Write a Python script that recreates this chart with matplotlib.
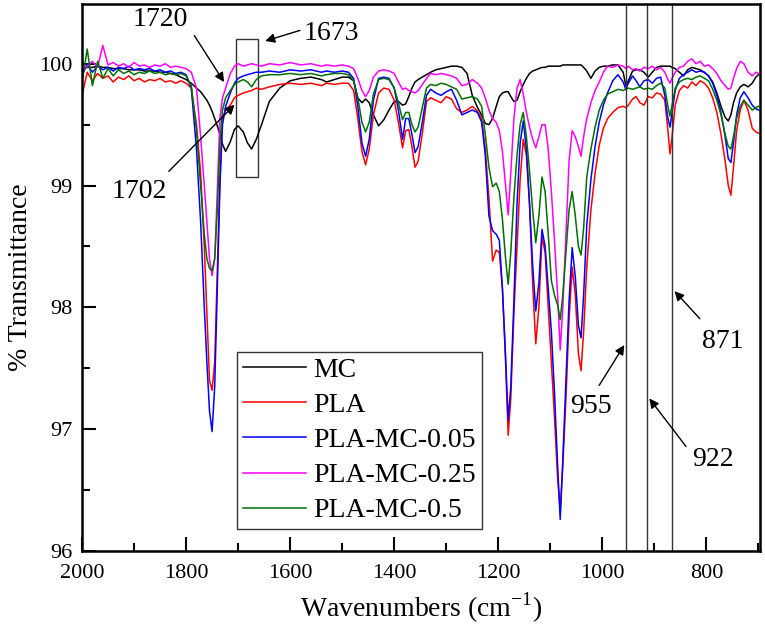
import numpy as np
import matplotlib
matplotlib.use("Agg")
import matplotlib.pyplot as plt
from matplotlib.patches import Rectangle

plt.rcParams['font.family'] = ['Liberation Serif', 'DejaVu Serif']
plt.rcParams['mathtext.fontset'] = 'custom'
plt.rcParams['mathtext.rm'] = 'Liberation Serif'

wavenumber = [2000, 1990, 1980, 1970, 1960, 1950, 1940, 1930, 1920, 1910, 1900, 1890, 1880, 1870, 1860,
              1850, 1840, 1830, 1820, 1810, 1800, 1790, 1780, 1772, 1765, 1760, 1755, 1750, 1745, 1740,
              1735, 1730, 1724, 1715, 1707, 1700, 1690, 1682, 1674, 1665, 1655, 1640, 1620, 1600, 1580,
              1560, 1540, 1530, 1515, 1500, 1488, 1478, 1470, 1462, 1455, 1448, 1440, 1430, 1420, 1410,
              1400, 1392, 1384, 1378, 1372, 1366, 1360, 1354, 1346, 1338, 1330, 1320, 1310, 1300, 1290,
              1280, 1270, 1260, 1250, 1240, 1232, 1225, 1218, 1211, 1204, 1198, 1192, 1186, 1181, 1176,
              1170, 1164, 1158, 1152, 1146, 1140, 1134, 1128, 1122, 1116, 1110, 1104, 1098, 1092, 1086,
              1081, 1076, 1070, 1064, 1058, 1052, 1046, 1041, 1036, 1030, 1022, 1014, 1006, 998, 990,
              980, 970, 960, 955, 950, 942, 935, 928, 920, 912, 904, 896, 888, 880, 874,
              870, 866, 860, 852, 844, 836, 828, 820, 812, 804, 796, 788, 780, 772, 764,
              758, 753, 748, 742, 735, 728, 720, 712, 705, 700]

mc = [99.96, 99.97, 99.97, 99.98, 99.97, 99.97, 99.96, 99.96, 99.96, 99.95, 99.95, 99.95, 99.94, 99.94, 99.94,
      99.93, 99.93, 99.92, 99.91, 99.89, 99.87, 99.84, 99.80, 99.77, 99.73, 99.70, 99.66, 99.61, 99.55, 99.49,
      99.42, 99.34, 99.28, 99.36, 99.46, 99.49, 99.44, 99.35, 99.30, 99.38, 99.50, 99.69, 99.80, 99.86, 99.88,
      99.89, 99.87, 99.85, 99.87, 99.89, 99.89, 99.86, 99.72, 99.68, 99.71, 99.68, 99.58, 99.49, 99.54, 99.62,
      99.69, 99.69, 99.66, 99.67, 99.73, 99.80, 99.85, 99.87, 99.89, 99.91, 99.93, 99.95, 99.96, 99.97, 99.98,
      99.98, 99.97, 99.92, 99.74, 99.64, 99.58, 99.51, 99.50, 99.55, 99.65, 99.73, 99.76, 99.77, 99.77, 99.73,
      99.69, 99.70, 99.77, 99.83, 99.88, 99.92, 99.94, 99.95, 99.96, 99.97, 99.97, 99.98, 99.98, 99.98, 99.98,
      99.98, 99.99, 99.99, 99.99, 99.99, 99.99, 99.99, 99.99, 99.97, 99.94, 99.88, 99.94, 99.97, 99.98, 99.98,
      99.99, 99.99, 99.93, 99.82, 99.86, 99.94, 99.95, 99.95, 99.93, 99.89, 99.93, 99.97, 99.98, 99.98, 99.98,
      99.98, 99.97, 99.96, 99.93, 99.90, 99.95, 99.97, 99.96, 99.95, 99.93, 99.90, 99.85, 99.76, 99.65, 99.56,
      99.53, 99.58, 99.68, 99.76, 99.81, 99.83, 99.81, 99.84, 99.89, 99.91]

pla = [99.74, 99.93, 99.86, 99.92, 99.88, 99.90, 99.85, 99.89, 99.87, 99.90, 99.86, 99.88, 99.85, 99.87, 99.86,
       99.88, 99.85, 99.86, 99.84, 99.86, 99.84, 99.80, 99.50, 99.10, 98.50, 97.95, 97.40, 97.32, 97.55, 98.30,
       99.05, 99.55, 99.62, 99.66, 99.72, 99.74, 99.76, 99.77, 99.78, 99.80, 99.79, 99.81, 99.83, 99.84, 99.83,
       99.84, 99.82, 99.84, 99.83, 99.84, 99.84, 99.78, 99.55, 99.28, 99.17, 99.30, 99.58, 99.76, 99.80, 99.79,
       99.70, 99.52, 99.31, 99.45, 99.46, 99.32, 99.15, 99.20, 99.43, 99.69, 99.72, 99.70, 99.68, 99.73, 99.71,
       99.63, 99.60, 99.62, 99.65, 99.61, 99.55, 99.30, 98.90, 98.38, 98.47, 98.45, 98.15, 97.55, 96.95, 97.25,
       97.95, 98.50, 99.05, 99.38, 99.25, 98.85, 98.20, 97.70, 98.00, 98.58, 98.45, 98.00, 97.55, 97.10, 96.60,
       96.33, 96.70, 97.25, 97.90, 98.33, 98.10, 97.62, 97.48, 97.80, 98.33, 98.80, 99.10, 99.33, 99.47, 99.55,
       99.60, 99.64, 99.65, 99.64, 99.66, 99.71, 99.73, 99.68, 99.66, 99.73, 99.72, 99.76, 99.75, 99.70, 99.45,
       99.26, 99.40, 99.66, 99.78, 99.82, 99.80, 99.85, 99.82, 99.86, 99.84, 99.80, 99.72, 99.60, 99.42, 99.20,
       99.00, 98.92, 99.15, 99.45, 99.62, 99.70, 99.62, 99.47, 99.44, 99.43]

pla_mc_005 = [99.90, 100.00, 99.93, 99.98, 99.95, 99.97, 99.94, 99.97, 99.96, 99.98, 99.95, 99.96, 99.95, 99.96, 99.94,
              99.95, 99.93, 99.94, 99.92, 99.93, 99.91, 99.80, 99.30, 98.70, 98.00, 97.55, 97.15, 96.98, 97.35, 98.15,
              99.00, 99.50, 99.65, 99.76, 99.84, 99.88, 99.90, 99.91, 99.92, 99.93, 99.93, 99.94, 99.93, 99.95, 99.94,
              99.95, 99.93, 99.94, 99.93, 99.94, 99.93, 99.88, 99.65, 99.35, 99.24, 99.38, 99.70, 99.88, 99.89, 99.88,
              99.80, 99.62, 99.38, 99.55, 99.55, 99.42, 99.27, 99.32, 99.52, 99.74, 99.79, 99.76, 99.74, 99.77, 99.79,
              99.70, 99.58, 99.60, 99.62, 99.60, 99.52, 99.25, 98.75, 98.63, 98.60, 98.55, 98.15, 97.60, 97.07, 97.35,
              98.05, 98.85, 99.35, 99.53, 99.30, 98.85, 98.35, 97.97, 98.20, 98.64, 98.50, 98.15, 97.80, 97.30, 96.70,
              96.26, 96.75, 97.40, 98.05, 98.49, 98.25, 97.85, 97.75, 98.10, 98.67, 99.05, 99.32, 99.52, 99.66, 99.76,
              99.86, 99.91, 99.85, 99.79, 99.84, 99.90, 99.86, 99.81, 99.86, 99.87, 99.84, 99.88, 99.89, 99.74, 99.55,
              99.48, 99.60, 99.78, 99.88, 99.91, 99.93, 99.95, 99.93, 99.94, 99.93, 99.90, 99.84, 99.74, 99.60, 99.40,
              99.22, 99.19, 99.35, 99.58, 99.72, 99.77, 99.72, 99.66, 99.63, 99.62]

pla_mc_025 = [99.95, 99.98, 100.02, 99.97, 100.15, 99.99, 100.01, 99.98, 100.00, 99.97, 100.01, 99.98, 99.99, 99.97, 99.99,
              99.98, 100.00, 99.97, 99.98, 99.97, 99.96, 99.93, 99.80, 99.40, 99.00, 98.70, 98.40, 98.26, 98.40, 98.95,
              99.55, 99.72, 99.80, 99.92, 99.98, 100.00, 99.98, 99.99, 100.00, 99.99, 99.98, 100.00, 99.99, 100.01, 99.99,
              100.00, 99.98, 99.99, 99.98, 99.99, 99.98, 99.96, 99.88, 99.78, 99.73, 99.78, 99.89, 99.94, 99.95, 99.94,
              99.92, 99.85, 99.79, 99.80, 99.78, 99.77, 99.76, 99.78, 99.83, 99.88, 99.92, 99.91, 99.92, 99.91, 99.90,
              99.88, 99.82, 99.83, 99.87, 99.84, 99.80, 99.72, 99.62, 99.55, 99.52, 99.45, 99.28, 99.00, 98.76, 99.10,
              99.55, 99.80, 99.87, 99.75, 99.60, 99.48, 99.38, 99.31, 99.40, 99.50, 99.50, 99.30, 98.95, 98.55, 98.10,
              97.65, 98.00, 98.60, 99.20, 99.45, 99.40, 99.32, 99.24, 99.40, 99.55, 99.68, 99.78, 99.85, 99.93, 99.98,
              99.97, 99.99, 99.98, 99.96, 99.98, 99.95, 99.96, 99.94, 99.97, 99.96, 99.98, 99.95, 99.97, 99.93, 99.87,
              99.84, 99.88, 99.93, 99.97, 99.98, 100.02, 100.04, 100.00, 100.02, 99.98, 99.99, 99.96, 99.92, 99.86, 99.82,
              99.79, 99.80, 99.88, 99.96, 100.02, 100.00, 99.93, 99.90, 99.93, 99.92]

pla_mc_05 = [99.85, 100.12, 99.82, 100.02, 99.88, 99.96, 99.90, 99.95, 99.92, 99.94, 99.91, 99.93, 99.92, 99.94, 99.92,
             99.93, 99.91, 99.92, 99.91, 99.92, 99.90, 99.82, 99.45, 99.00, 98.60, 98.40, 98.32, 98.30, 98.40, 98.80,
             99.35, 99.62, 99.72, 99.78, 99.83, 99.85, 99.87, 99.85, 99.81, 99.87, 99.90, 99.91, 99.91, 99.92, 99.91,
             99.92, 99.90, 99.91, 99.92, 99.92, 99.91, 99.86, 99.72, 99.52, 99.44, 99.52, 99.75, 99.87, 99.88, 99.87,
             99.80, 99.68, 99.54, 99.60, 99.60, 99.50, 99.44, 99.48, 99.64, 99.80, 99.83, 99.82, 99.84, 99.83, 99.81,
             99.79, 99.71, 99.72, 99.73, 99.71, 99.65, 99.42, 99.15, 98.99, 99.02, 98.95, 98.72, 98.40, 98.19, 98.45,
             98.90, 99.25, 99.50, 99.60, 99.40, 99.12, 98.80, 98.53, 98.75, 99.07, 98.95, 98.60, 98.22, 98.10, 98.02,
             97.90, 98.10, 98.45, 98.80, 98.95, 98.75, 98.50, 98.43, 98.65, 99.07, 99.30, 99.48, 99.62, 99.70, 99.75,
             99.77, 99.79, 99.78, 99.79, 99.80, 99.79, 99.80, 99.81, 99.79, 99.80, 99.79, 99.82, 99.84, 99.80, 99.65,
             99.57, 99.66, 99.80, 99.85, 99.87, 99.88, 99.87, 99.89, 99.90, 99.88, 99.86, 99.79, 99.70, 99.58, 99.42,
             99.32, 99.30, 99.40, 99.55, 99.65, 99.70, 99.66, 99.62, 99.64, 99.65]

series_labels = ["MC", "PLA", "PLA-MC-0.05", "PLA-MC-0.25", "PLA-MC-0.5"]
series_colors = ["#000000", "#ff0000", "#0000ff", "#ff00ff", "#007000"]
series_values = [mc, pla, pla_mc_005, pla_mc_025, pla_mc_05]

vlines = [955, 915, 867]
box = (1705, 1661, 99.066, 100.205)

fig = plt.figure(figsize=(7.65, 6.29), dpi=100)
ax = fig.add_axes([0.1072, 0.124, 0.8863, 0.8696])

for vals, lab, col in zip(series_values, series_labels, series_colors):
    ax.plot(wavenumber, vals, color=col, lw=1.1, label=lab)

for v in vlines:
    ax.axvline(v, color='#333333', lw=1.0)

ax.add_patch(Rectangle((box[1], box[2]), box[0] - box[1], box[3] - box[2],
                       fill=False, edgecolor='#333333', lw=1.0))

ax.set_xlim(2000, 697)
ax.set_ylim(96, 100.49)
ax.set_xticks([2000, 1800, 1600, 1400, 1200, 1000, 800])
ax.set_xticks([1900, 1700, 1500, 1300, 1100, 900, 700], minor=True)
ax.set_yticks([96, 97, 98, 99, 100])
ax.set_yticks([96.5, 97.5, 98.5, 99.5], minor=True)
ax.tick_params(which='both', direction='in', top=False, right=False, labelsize=16, width=1.5)
ax.tick_params(which='major', length=10)
ax.tick_params(which='minor', length=6)
ax.tick_params(axis='x', which='major', pad=9)
ax.tick_params(axis='y', which='major', pad=7)
for s in ax.spines.values():
    s.set_linewidth(1.8)

ax.set_xlabel("Wavenumbers (cm$^{\\mathregular{-1}}$)", fontsize=20, labelpad=6)
ax.set_ylabel("% Transmittance", fontsize=20, labelpad=4)

ann = dict(arrowprops=dict(arrowstyle='-|>', color='black', lw=1.0, mutation_scale=14),
           fontsize=20, ha='center', va='center')
ax.annotate("", xy=(1724, 99.83), xytext=(1787, 100.25), **ann)
ax.text(1850, 100.36, "1720", fontsize=20, ha='center', va='center')
ax.annotate("", xy=(1653, 100.18), xytext=(1576, 100.28), **ann)
ax.text(1521, 100.25, "1673", fontsize=20, ha='center', va='center')
ax.annotate("", xy=(1703, 99.68), xytext=(1837, 99.10), **ann)
ax.text(1889, 98.95, "1702", fontsize=20, ha='center', va='center')
ax.annotate("", xy=(955, 97.71), xytext=(1009, 97.34), **ann)
ax.text(1022, 97.19, "955", fontsize=20, ha='center', va='center')
ax.annotate("", xy=(913, 97.27), xytext=(836, 96.84), **ann)
ax.text(788, 96.75, "922", fontsize=20, ha='center', va='center')
ax.annotate("", xy=(865, 98.15), xytext=(809, 97.89), **ann)
ax.text(769, 97.72, "871", fontsize=20, ha='center', va='center')

leg = ax.legend(loc='lower left', bbox_to_anchor=(0.2286, 0.0402), borderaxespad=0,
                fontsize=20, frameon=True, fancybox=False, edgecolor='black',
                handlelength=2.3, handletextpad=0.25, labelspacing=0.35, borderpad=0.2)
leg.get_frame().set_linewidth(1.0)

fig.savefig("out.png", dpi=100)
